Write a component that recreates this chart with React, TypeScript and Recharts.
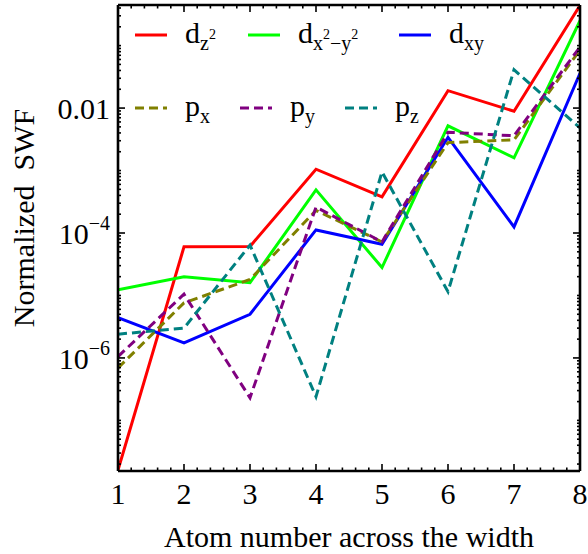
import React from "react";
import { LineChart, Line, XAxis, YAxis } from "recharts";

// atom index across the ribbon width
const atoms = [1, 2, 3, 4, 5, 6, 7, 8];

// normalized squared wave function per orbital
const dz2 = [1.6e-8, 6.0e-5, 6.1e-5, 1.05e-3, 3.8e-4, 0.019, 8.9e-3, 0.44];
const dx2y2 = [1.23e-5, 2.0e-5, 1.6e-5, 4.9e-4, 2.8e-5, 5.2e-3, 1.6e-3, 0.25];
const dxy = [4.4e-6, 1.74e-6, 5.0e-6, 1.12e-4, 6.6e-5, 3.4e-3, 1.25e-4, 0.036];
const px = [6.9e-7, 7.6e-6, 1.8e-5, 2.3e-4, 7.2e-5, 2.8e-3, 3.1e-3, 0.085];
const py = [1.05e-6, 1.05e-5, 2.3e-7, 2.6e-4, 7.2e-5, 4.1e-3, 3.6e-3, 0.095];
const pz = [2.4e-6, 3.0e-6, 6.4e-5, 2.4e-7, 9.5e-4, 1.15e-5, 0.041, 4.8e-3];

const xLabelTicks = [1, 2, 3, 4, 5, 6, 7, 8];
const yLabelTicks = [1e-6, 1e-4, 0.01];
const yTickLabels = ["10^−6", "10^−4", "0.01"];

const Y_MIN = Math.pow(10, -7.81);
const Y_MAX = Math.pow(10, -0.35);

const rows = atoms.map((a, i) => ({
  atom: a,
  dz2: dz2[i],
  dx2y2: dx2y2[i],
  dxy: dxy[i],
  px: px[i],
  py: py[i],
  pz: pz[i],
}));

type Part = { t: string; lvl: 0 | 1 | 2 };

const series: {
  key: string;
  color: string;
  dashed: boolean;
  label: Part[];
}[] = [
  { key: "dz2", color: "#ff0000", dashed: false, label: [{ t: "d", lvl: 0 }, { t: "z", lvl: 1 }, { t: "2", lvl: 2 }] },
  {
    key: "dx2y2",
    color: "#00ff00",
    dashed: false,
    label: [
      { t: "d", lvl: 0 },
      { t: "x", lvl: 1 },
      { t: "2", lvl: 2 },
      { t: "−y", lvl: 1 },
      { t: "2", lvl: 2 },
    ],
  },
  { key: "dxy", color: "#0000ff", dashed: false, label: [{ t: "d", lvl: 0 }, { t: "xy", lvl: 1 }] },
  { key: "px", color: "#808000", dashed: true, label: [{ t: "p", lvl: 0 }, { t: "x", lvl: 1 }] },
  { key: "py", color: "#800080", dashed: true, label: [{ t: "p", lvl: 0 }, { t: "y", lvl: 1 }] },
  { key: "pz", color: "#008080", dashed: true, label: [{ t: "p", lvl: 0 }, { t: "z", lvl: 1 }] },
];

// legend item anchors (line start x, row line y)
const legendSlots = [
  { x: 135, y: 35 },
  { x: 248, y: 35 },
  { x: 399, y: 35 },
  { x: 135, y: 108 },
  { x: 240, y: 108 },
  { x: 345, y: 108 },
];

const DASH = "9 5";
const FONT = '"Liberation Serif", "Times New Roman", serif';

// minor ticks every 0.2 along x
const xTicks: number[] = [];
for (let i = 0; i <= 35; i++) xTicks.push(Math.round((1 + i * 0.2) * 10) / 10);

// log ticks: each decade plus 2..9 multiples
const yTicks: number[] = [];
for (let e = -8; e <= -1; e++) {
  for (let k = 1; k <= 9; k++) {
    const v = k * Math.pow(10, e);
    if (v >= Y_MIN && v <= Y_MAX) yTicks.push(v);
  }
}

const isMajorX = (v: number) => xLabelTicks.some((t) => Math.abs(t - v) < 1e-6);
const yLabelIndex = (v: number) => yLabelTicks.findIndex((t) => Math.abs(t - v) / t < 1e-6);

function BottomTick({ x, y, payload }: any) {
  const major = isMajorX(payload.value);
  return (
    <g>
      <line x1={x} x2={x} y1={y} y2={y - (major ? 7 : 3.5)} stroke="#000" strokeWidth={1.6} />
      {major && (
        <text x={x} y={y + 33} textAnchor="middle" fontSize={30} fill="#000" fontFamily={FONT}>
          {payload.value}
        </text>
      )}
    </g>
  );
}

function TopTick({ x, y, payload }: any) {
  const major = isMajorX(payload.value);
  return <line x1={x} x2={x} y1={y} y2={y + (major ? 7 : 3.5)} stroke="#000" strokeWidth={1.6} />;
}

function LeftTick({ x, y, payload }: any) {
  const idx = yLabelIndex(payload.value);
  const major = idx >= 0;
  const label = major ? yTickLabels[idx] : "";
  const [base, exp] = label.split("^");
  return (
    <g>
      <line x1={x} x2={x + (major ? 7 : 3)} y1={y} y2={y} stroke="#000" strokeWidth={1.6} />
      {major && (
        <text x={x - 8} y={y + 11} textAnchor="end" fontSize={30} fill="#000" fontFamily={FONT}>
          <tspan>{base}</tspan>
          {exp && (
            <tspan dy={-14} fontSize={20}>
              {exp}
            </tspan>
          )}
        </text>
      )}
    </g>
  );
}

function RightTick({ x, y, payload }: any) {
  const major = yLabelIndex(payload.value) >= 0;
  return <line x1={x} x2={x - (major ? 7 : 3)} y1={y} y2={y} stroke="#000" strokeWidth={1.6} />;
}

function renderLabel(parts: Part[]) {
  let lvl = 0;
  const offs = [0, 7, -4];
  const sizes = [30, 20, 14];
  return parts.map((p, i) => {
    const dy = offs[p.lvl] - offs[lvl];
    lvl = p.lvl;
    return (
      <tspan key={i} dy={dy} fontSize={sizes[p.lvl]}>
        {p.t}
      </tspan>
    );
  });
}

function SeriesLegend() {
  return (
    <svg
      width={588}
      height={554}
      style={{ position: "absolute", left: 0, top: 0, pointerEvents: "none" }}
    >
      {series.map((s, i) => {
        const slot = legendSlots[i];
        return (
          <g key={s.key}>
            <line
              x1={slot.x}
              x2={slot.x + 32}
              y1={slot.y}
              y2={slot.y}
              stroke={s.color}
              strokeWidth={3}
              strokeDasharray={s.dashed ? DASH : undefined}
            />
            <text x={slot.x + 50} y={slot.y + 8} fontFamily={FONT} fill="#000">
              {renderLabel(s.label)}
            </text>
          </g>
        );
      })}
    </svg>
  );
}

export default function App() {
  return (
    <div
      style={{
        position: "absolute",
        left: 0,
        top: 0,
        width: 588,
        height: 554,
        background: "#fff",
        fontFamily: FONT,
      }}
    >
      <LineChart width={588} height={554} data={rows} margin={{ top: 0, right: 0, bottom: 0, left: 0 }}>
        <XAxis
          xAxisId="bottom"
          dataKey="atom"
          type="number"
          domain={[1, 8]}
          allowDataOverflow
          ticks={xTicks}
          interval={0}
          height={83}
          tickSize={0}
          tickMargin={0}
          tickLine={false}
          tick={<BottomTick />}
          axisLine={{ stroke: "#000", strokeWidth: 2.6 }}
          label={({ viewBox }: any) => (
            <text
              x={viewBox.x + viewBox.width / 2}
              y={viewBox.y + 76}
              textAnchor="middle"
              fontSize={30}
              fill="#000"
              fontFamily={FONT}
            >
              Atom number across the width
            </text>
          )}
        />
        <XAxis
          xAxisId="top"
          orientation="top"
          dataKey="atom"
          type="number"
          domain={[1, 8]}
          allowDataOverflow
          ticks={xTicks}
          interval={0}
          height={5}
          tickSize={0}
          tickMargin={0}
          tickLine={false}
          tick={<TopTick />}
          axisLine={{ stroke: "#000", strokeWidth: 2.6 }}
        />
        <YAxis
          yAxisId="left"
          type="number"
          scale="log"
          domain={[Y_MIN, Y_MAX]}
          allowDataOverflow
          ticks={yTicks}
          interval={0}
          width={118}
          tickSize={0}
          tickMargin={0}
          tickLine={false}
          tick={<LeftTick />}
          axisLine={{ stroke: "#000", strokeWidth: 2.6 }}
          label={() => {
            const cx = 34;
            const cy = 218;
            return (
              <text
                x={cx}
                y={cy}
                transform={`rotate(-90 ${cx} ${cy})`}
                textAnchor="middle"
                fontSize={30}
                fill="#000"
                fontFamily={FONT}
                style={{ whiteSpace: "pre" }}
              >
                Normalized  SWF
              </text>
            );
          }}
        />
        <YAxis
          yAxisId="right"
          orientation="right"
          type="number"
          scale="log"
          domain={[Y_MIN, Y_MAX]}
          allowDataOverflow
          ticks={yTicks}
          interval={0}
          width={8}
          tickSize={0}
          tickMargin={0}
          tickLine={false}
          tick={<RightTick />}
          axisLine={{ stroke: "#000", strokeWidth: 2.6 }}
        />
        {series.map((s) => (
          <Line
            key={s.key}
            xAxisId="bottom"
            yAxisId="left"
            type="linear"
            dataKey={s.key}
            stroke={s.color}
            strokeWidth={3}
            strokeDasharray={s.dashed ? DASH : undefined}
            dot={false}
            activeDot={false}
            isAnimationActive={false}
          />
        ))}
      </LineChart>
      <SeriesLegend />
    </div>
  );
}
